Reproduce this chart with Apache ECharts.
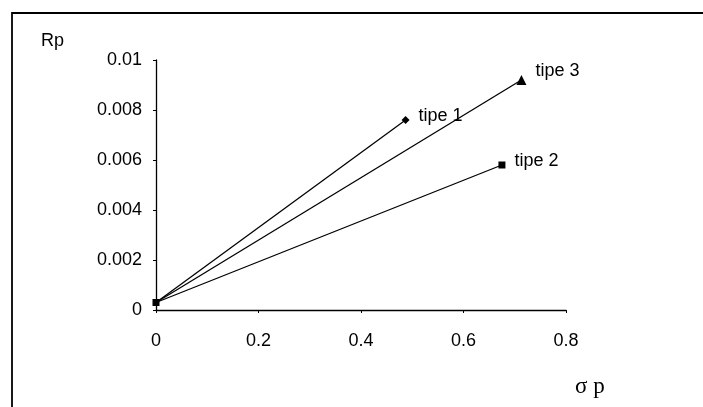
<!DOCTYPE html>
<html>
<head>
<meta charset="utf-8">
<script src="https://cdn.jsdelivr.net/npm/echarts@6/dist/echarts.min.js"></script>
<style>
  html, body { margin: 0; padding: 0; background: #fff; }
  #chart { width: 703px; height: 407px; }
</style>
</head>
<body>
<div id="chart"></div>
<script>
// values
const seriesNames = ['tipe 1', 'tipe 2', 'tipe 3']
const tipe1 = [[0, 0.0003], [0.487, 0.0076]]
const tipe2 = [[0, 0.0003], [0.675, 0.0058]]
const tipe3 = [[0, 0.0003], [0.713, 0.0092]]
const xTicks = [0, 0.2, 0.4, 0.6, 0.8]
const yTicks = [0, 0.002, 0.004, 0.006, 0.008, 0.01]

const chart = echarts.init(document.getElementById('chart'))

function endLabel(name, dy) {
  return {
    show: true,
    position: 'right',
    distance: 9,
    offset: [0, dy],
    formatter: name,
    color: '#000',
    fontFamily: 'Liberation Sans',
    fontSize: 18
  }
}

function makeSeries(name, pts, symbol, size, dy, showStart) {
  return {
    name: name,
    type: 'line',
    data: pts.map(function(p, i) {
      const d = { value: p }
      if (i === pts.length - 1) {
        d.label = endLabel(name, dy)
      } else if (!showStart) {
        d.symbol = 'none'
      }
      return d
    }),
    symbol: symbol,
    symbolSize: size,
    showAllSymbol: true,
    lineStyle: { color: '#000', width: 1.3 },
    itemStyle: { color: '#000' },
    animation: false,
    z: 3
  }
}

const option = {
  backgroundColor: '#fff',
  grid: { left: 156, right: 137, top: 60, bottom: 97, containLabel: false },
  xAxis: {
    type: 'value',
    min: xTicks[0],
    max: xTicks[xTicks.length - 1],
    interval: 0.2,
    splitLine: { show: false },
    axisLine: { show: true, lineStyle: { color: '#000', width: 1.3 } },
    axisTick: { show: true, length: 3, lineStyle: { color: '#000' } },
    axisLabel: {
      color: '#000', fontFamily: 'Liberation Sans', fontSize: 18, margin: 22,
      formatter: function(v) { return String(Math.round(v * 10) / 10) }
    }
  },
  yAxis: {
    type: 'value',
    min: yTicks[0],
    max: yTicks[yTicks.length - 1],
    interval: 0.002,
    splitLine: { show: false },
    axisLine: { show: true, lineStyle: { color: '#000', width: 1.3 } },
    axisTick: { show: true, length: 3, lineStyle: { color: '#000' } },
    axisLabel: {
      color: '#000', fontFamily: 'Liberation Sans', fontSize: 18, margin: 14,
      formatter: function(v) { return String(Math.round(v * 1000) / 1000) }
    }
  },
  graphic: [
    {
      type: 'polyline',
      shape: { points: [[12, 420], [12, 13], [720, 13]] },
      style: { stroke: '#000', lineWidth: 1.8, fill: null }
    },
    {
      type: 'text', left: 41, top: 32,
      style: { text: 'Rp', fill: '#000', font: '18px "Liberation Sans"' }
    },
    {
      type: 'text', left: 575, top: 375,
      style: { text: 'σ p', fill: '#000', font: '23px "Liberation Serif"' }
    }
  ],
  series: [
    makeSeries(seriesNames[0], tipe1, 'diamond', 8, -4, false),
    makeSeries(seriesNames[1], tipe2, 'rect', 7, -4, true),
    makeSeries(seriesNames[2], tipe3, 'triangle', 10, -9, false)
  ]
}

chart.setOption(option)
</script>
</body>
</html>
